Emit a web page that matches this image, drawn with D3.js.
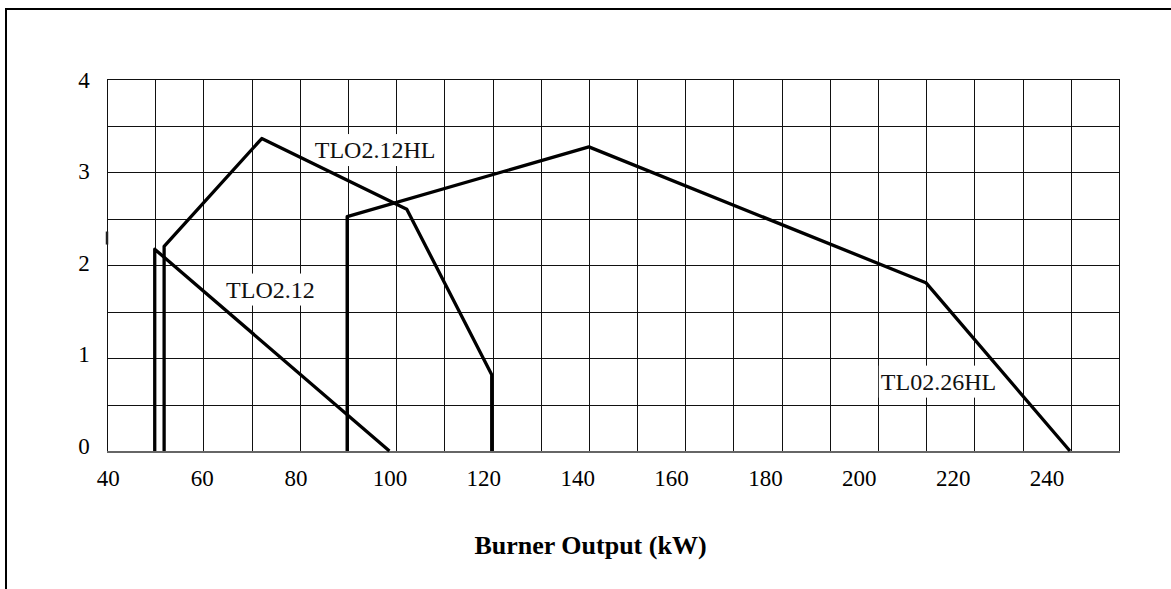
<!DOCTYPE html>
<html>

<head>
    <meta charset="utf-8">
    <style>
        body {
            margin: 0;
            background: white;
        }

        svg {
            display: block;
            font-family: 'Liberation Serif', 'Times New Roman', serif;
        }

        .grid line {
            stroke: #111;
            stroke-width: 1;
            shape-rendering: crispEdges;
        }

        .tick-label {
            font-family: 'Liberation Serif', 'Times New Roman', serif;
            font-size: 23px;
            fill: #000;
        }

        .curve {
            fill: none;
            stroke: #000;
            stroke-width: 3.3;
            stroke-linejoin: round;
        }

        .note {
            font-size: 24px;
            fill: #111;
        }

        .title {
            font-size: 26px;
            font-weight: bold;
            text-anchor: middle;
        }
    </style>
</head>

<body>
    <svg width="1171" height="589"></svg>
</body>

<script src="https://d3js.org/d3.v7.min.js"></script>

<script>
    // burner curves (kW, pressure)
    let seriesNames = ["TLO2.12", "TLO2.12HL", "TL02.26HL"]
    let outputKW = [
        [50, 50, 100],
        [52, 52, 72.8, 103.7, 121.8, 121.8],
        [91, 91, 142.5, 214.3, 245]
    ]
    let pressure = [
        [0, 2.17, 0],
        [0, 2.2, 3.36, 2.6, 0.82, 0],
        [0, 2.52, 3.27, 1.81, 0]
    ]

    let xTicks = [40, 60, 80, 100, 120, 140, 160, 180, 200, 220, 240]
    let yTicks = [0, 1, 2, 3, 4]
    let gridCols = 21
    let gridRows = [0, 0.5, 1, 1.5, 2, 2.5, 3, 3.5, 4]

    // where each curve name sits (kW, pressure of the baseline)
    let noteKW = [65.2, 84.1, 204.7]
    let noteP = [1.65, 3.15, 0.66]

    // little stray mark on the left edge of the grid
    let strayMark = [2.22, 2.36]

    let svg = d3.select("svg")

    let plotLeft = 107
    let plotRight = 1119
    let plotTop = 79
    let plotBottom = 451

    // the value scale of the tick labels does not line up with the grid columns
    let x = d3.scaleLinear()
        .domain([40, 240])
        .range([107.8, 1046.5])

    let gridX = d3.scaleLinear()
        .domain([0, gridCols])
        .range([plotLeft, plotRight])

    let y = d3.scaleLinear()
        .domain([0, 4])
        .range([plotBottom, plotTop])

    let yLabel = d3.scaleLinear()
        .domain([0, 4])
        .range([453, 87])

    // frame around the whole thing
    svg.append("rect")
        .attr("x", 6)
        .attr("y", 9)
        .attr("width", 1300)
        .attr("height", 700)
        .attr("fill", "none")
        .attr("stroke", "black")
        .attr("stroke-width", 2)

    // grid
    let grid = svg.append("g").attr("class", "grid")

    grid.selectAll(".vline")
        .data(d3.range(gridCols + 1))
        .join("line")
        .attr("class", "vline")
        .attr("x1", d => Math.round(gridX(d)) + 0.5)
        .attr("x2", d => Math.round(gridX(d)) + 0.5)
        .attr("y1", plotTop)
        .attr("y2", plotBottom)

    grid.selectAll(".hline")
        .data(gridRows)
        .join("line")
        .attr("class", "hline")
        .attr("x1", plotLeft)
        .attr("x2", plotRight + 1)
        .attr("y1", d => Math.round(y(d)) + 0.5)
        .attr("y2", d => Math.round(y(d)) + 0.5)
        .style("stroke", d => d == 0 ? "#666" : null)
        .style("stroke-width", d => d == 0 ? 2 : null)

    svg.append("line")
        .attr("x1", plotLeft)
        .attr("x2", plotLeft)
        .attr("y1", y(strayMark[0]))
        .attr("y2", y(strayMark[1]))
        .attr("stroke", "#222")
        .attr("stroke-width", 2.5)

    // axes (labels only)
    let xAxis = d3.axisBottom(x)
        .tickValues(xTicks)
        .tickSize(0)
        .tickPadding(0)
        .tickFormat(d3.format("d"))

    let gx = svg.append("g")
        .attr("transform", "translate(0,486)")
        .call(xAxis)
        .attr("font-family", null)
        .attr("font-size", null)
    gx.select(".domain").remove()
    gx.selectAll("text")
        .attr("class", "tick-label")
        .attr("dy", 0)
        .attr("y", 0)

    let yAxis = d3.axisLeft(yLabel)
        .tickValues(yTicks)
        .tickSize(0)
        .tickPadding(0)
        .tickFormat(d3.format("d"))

    let gy = svg.append("g")
        .attr("transform", "translate(84,0)")
        .call(yAxis)
        .attr("font-family", null)
        .attr("font-size", null)
    gy.select(".domain").remove()
    gy.selectAll("text")
        .attr("class", "tick-label")
        .attr("text-anchor", "middle")
        .attr("dy", 0)
        .attr("x", 0)

    // curve names on white patches
    let notes = svg.append("g")
    seriesNames.forEach((name, i) => {
        let t = notes.append("text")
            .attr("class", "note")
            .attr("x", x(noteKW[i]))
            .attr("y", y(noteP[i]))
            .text(name)
        let b = t.node().getBBox()
        notes.insert("rect", "text")
            .attr("x", b.x - 2)
            .attr("y", b.y - 3)
            .attr("width", b.width + 4)
            .attr("height", b.height + 6)
            .attr("fill", "white")
    })

    // curves
    let line = d3.line()
        .x(d => x(d[0]))
        .y(d => y(d[1]))

    svg.append("g")
        .selectAll(".curve")
        .data(seriesNames.map((name, i) => d3.zip(outputKW[i], pressure[i])))
        .join("path")
        .attr("class", "curve")
        .attr("d", line)

    svg.append("text")
        .attr("class", "title")
        .attr("x", 590.5)
        .attr("y", 554)
        .text("Burner Output (kW)")
</script>

</html>
